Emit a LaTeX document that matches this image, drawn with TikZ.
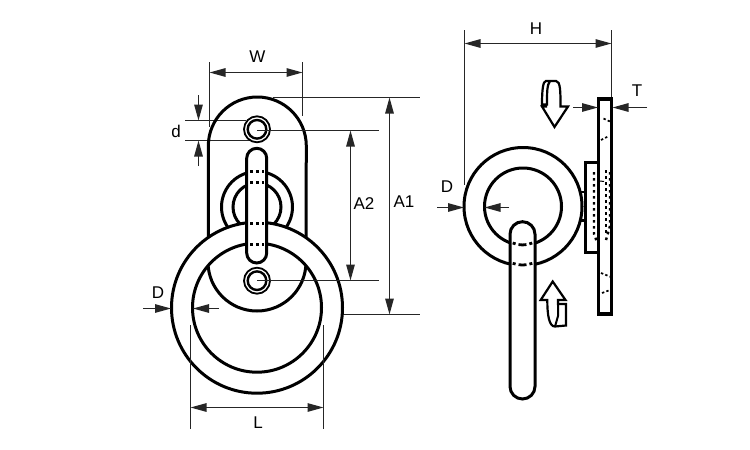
\documentclass[tikz,border=0pt]{standalone}
\usepackage{fontspec}
\setmainfont{Liberation Sans}
\usetikzlibrary{arrows.meta}
\tikzset{
  obj/.style={line width=3pt,draw=black},
  objfill/.style={obj,fill=white},
  dimline/.style={line width=1.2pt,draw=black!85},
  both/.style={dimline,{Triangle[length=16pt,width=8.5pt]}-{Triangle[length=16pt,width=8.5pt]}},
  toward/.style={dimline,-{Triangle[length=16pt,width=8.5pt]}},
  hidden/.style={line width=2.8pt,dash pattern=on 3.2pt off 3pt},
  dots/.style={line width=2.4pt,dash pattern=on 2.6pt off 3.4pt},
  specks/.style={line width=1.7pt,dash pattern=on 2.4pt off 2.2pt},
  hollow/.style={line width=2.2pt,draw=black,fill=white,line join=miter},
  lab/.style={font=\fontsize{17}{20}\selectfont,text=black,inner sep=0pt}
}
\begin{document}
\begin{tikzpicture}[x=1pt,y=-1pt]
\useasboundingbox (0,0) rectangle (750,450);
\fill[white] (0,0) rectangle (750,450);

% ---------- left view ----------
% dimension lines behind the parts
\draw[dimline] (209.5,62) -- (209.5,127);
\draw[dimline] (302.5,62) -- (302.5,116);
\draw[dimline] (273,97.5) -- (420,97.5);
\draw[dimline] (265,314.5) -- (420,314.5);
\draw[dimline] (185,120.5) -- (246,120.5);
\draw[dimline] (185,140.5) -- (250,140.5);

% plate
\draw[obj] (208.3,240) -- (208.3,146) arc[start angle=180,end angle=360,radius=49] -- (306,240);
% middle ring
\draw[obj] (257,207) circle[radius=35.5];
\draw[obj] (257,207) circle[radius=24];
% large ring
\draw[objfill] (257,307.7) circle[radius=85.5];
\draw[obj] (257,307.7) circle[radius=64.5];
% plate bottom inside the ring
\begin{scope}
  \clip (257,307.7) circle[radius=64.5];
  \draw[obj] (208,262) arc[start angle=180,end angle=0,radius=49];
\end{scope}
% eyes
\draw[line width=1.8pt,fill=white] (257,129.3) circle[radius=13];
\draw[line width=2.4pt] (257,129.3) circle[radius=9.3];
\draw[line width=1.8pt,fill=white] (257,280.7) circle[radius=13];
\draw[line width=2.4pt] (257,280.7) circle[radius=9.3];
% link
\draw[objfill,rounded corners=10pt] (246.7,148.3) rectangle (266.7,263);
\draw[hidden] (250,171.7) -- (264,171.7);
\draw[hidden] (250,182.7) -- (264,182.7);
\draw[hidden] (250,223.3) -- (264,223.3);
\draw[hidden] (250,244.3) -- (264,244.3);
% dimensions over the parts
\draw[dimline] (257,130.5) -- (379,130.5);
\draw[dimline] (257,280.5) -- (379,280.5);
\draw[both] (209.5,72.5) -- (302.5,72.5);
\draw[toward] (198.5,95) -- (198.5,120.5);
\draw[toward] (198.5,166) -- (198.5,140.5);
\draw[both] (350.5,130.5) -- (350.5,280.5);
\draw[both] (389.5,97.5) -- (389.5,314.5);
\draw[toward] (143,308.5) -- (171,308.5);
\draw[toward] (219,308.5) -- (193,308.5);
\draw[dimline] (190.5,325) -- (190.5,429);
\draw[dimline] (323.5,325) -- (323.5,429);
\draw[both] (190.5,407.5) -- (323.5,407.5);
\node[lab] (lblW) at (257.5,57) {W};
\node[lab] (lbld) at (176,131) {d};
\node[lab] (lblAtwo) at (364,204) {A2};
\node[lab] (lblAone) at (404,202) {A1};
\node[lab] (lblDl) at (158,293) {D};
\node[lab] (lblL) at (258,423) {L};

% ---------- right view ----------
\draw[dimline] (464.5,30) -- (464.5,185);
\draw[dimline] (611.5,30) -- (611.5,97);
\draw[both] (464.5,43.5) -- (611.5,43.5);
% ring
\draw[obj] (523,206.5) circle[radius=59];
\draw[obj] (523,206.5) circle[radius=38.5];
% stubs between ring and plate
\draw[line width=2.2pt] (579,191.7) -- (585,191.7);
\draw[line width=2.2pt] (579,220.5) -- (585,220.5);
% backing block and plate
\draw[obj] (598.3,162.3) -- (585,162.3) -- (585,252.3) -- (598.3,252.3);
\draw[line width=3.2pt,line join=miter] (598.5,99) rectangle (611.7,314);
% hidden detail in the plate
\draw[dots] (594,172) -- (594,234) -- (597,242);
\draw[dots] (606,170) -- (606,233);
\draw[dots] (610,172) -- (610,226) -- (606,240);
\draw[line width=1pt] (600,181) -- (604,181.5);
\draw[specks] (603.5,118.5) -- (611,122);
\draw[specks] (601,140) -- (608,136.5);
\draw[specks] (601,273) -- (611,277);
\draw[specks] (602,293) -- (610,290);
% link
\draw[objfill,rounded corners=12.5pt] (510,221.7) rectangle (535,399);
\draw[line width=2.8pt,dash pattern=on 3pt off 3pt on 8pt off 3pt on 3pt off 50pt]
  (512.7,243) .. controls (519,245.6) and (526,245.6) .. (532.3,243);
\draw[line width=2.8pt,dash pattern=on 3pt off 3pt on 8pt off 3pt on 3pt off 50pt]
  (512.7,263.3) .. controls (519,265.6) and (526,265.6) .. (532.3,263.3);
% rotation arrows
\draw[hollow] (547,106.5) -- (542,106.5) -- (554.5,127) -- (568,106.5) -- (560.5,106.5)
  .. controls (560.5,92) and (560.5,81) .. (556,81) -- (546,81)
  .. controls (543,81) and (542,90) .. (542,104.5) -- (547,104.5)
  .. controls (547,92) and (547,85) .. (550,81);
\draw[hollow] (547.3,300) -- (540.7,300) -- (552.7,281.5) -- (565.5,300) -- (558,300)
  -- (558,304) -- (566,304) -- (566,325.5) -- (555,326.5)
  .. controls (549,326.5) and (547.3,315) .. (547.3,300) -- cycle;
\draw[line width=2pt] (558,304) -- (558,316) -- (555,326.5);
% dimensions
\draw[toward] (573,107.5) -- (598,107.5);
\draw[toward] (647,107.5) -- (612.5,107.5);
\draw[toward] (437,207.5) -- (464,207.5);
\draw[toward] (509,207.5) -- (484.5,207.5);
\node[lab] (lblH) at (536,29) {H};
\node[lab] (lblT) at (637,91) {T};
\node[lab] (lblDr) at (447,187) {D};
\end{tikzpicture}
\end{document}
